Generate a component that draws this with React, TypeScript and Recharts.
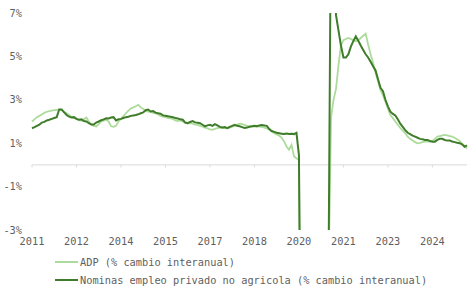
import { LineChart, Line, XAxis, YAxis, ReferenceLine, Legend } from "recharts";

// serie mensual, empieza en marzo de 2011
const startYear = 2011;
const startMonth = 3;

const adp = [
  2.0, 2.1, 2.2, 2.26, 2.32, 2.4, 2.45, 2.48, 2.5, 2.52,
  2.54, 2.55, 2.54, 2.45, 2.38, 2.3, 2.22, 2.16, 2.12, 2.06,
  2.03, 2.1, 2.18, 2.0, 1.86, 1.8, 1.77, 1.88, 2.0, 2.04,
  2.08, 2.0, 1.78, 1.76, 1.8, 2.0, 2.12, 2.25, 2.38, 2.5,
  2.6, 2.65, 2.7, 2.77, 2.65, 2.58, 2.48, 2.45, 2.44, 2.4,
  2.38, 2.32, 2.26, 2.22, 2.2, 2.16, 2.14, 2.12, 2.05, 2.02,
  2.05, 2.0, 1.95, 1.92, 1.92, 1.9, 1.86, 1.84, 1.8, 1.76,
  1.72, 1.68, 1.64, 1.62, 1.66, 1.7, 1.72, 1.7, 1.7, 1.69,
  1.72, 1.76, 1.8, 1.86, 1.9, 1.88, 1.85, 1.8, 1.78, 1.77,
  1.77, 1.77, 1.76, 1.75, 1.72, 1.68, 1.62, 1.54, 1.46, 1.4,
  1.35, 1.25, 1.08, 0.85, 0.7, 0.92, 0.4, 0.3, 0.22, -15.0,
  -13.0, -11.0, -9.5, -8.5, -8.0, -7.5, -7.0, -6.8, -6.5, -6.0,
  -5.0, 2.2, 3.0, 3.5, 4.6, 5.5, 5.75, 5.8, 5.85, 5.8,
  5.75, 5.7, 5.75, 5.85, 5.95, 6.05, 5.55, 5.1, 4.7, 4.25,
  3.85, 3.45, 3.2, 2.9, 2.6, 2.3, 2.15, 2.0, 1.85, 1.7,
  1.58, 1.46, 1.3, 1.2, 1.12, 1.05, 1.0, 1.02, 1.05, 1.07,
  1.07, 1.07, 1.1, 1.2, 1.3, 1.33, 1.36, 1.38, 1.36, 1.33,
  1.3, 1.25, 1.18, 1.1, 0.98, 0.88, 0.75,
];

const nominas = [
  1.69, 1.74, 1.8, 1.86, 1.95, 1.98, 2.05, 2.08, 2.12, 2.16,
  2.2, 2.55, 2.55, 2.42, 2.3, 2.22, 2.18, 2.2, 2.12, 2.08,
  2.1, 2.02, 2.0, 1.92, 1.86, 1.86, 1.95, 2.0, 2.06, 2.1,
  2.15, 2.14, 2.18, 2.2, 2.05, 2.1, 2.12, 2.16, 2.2, 2.22,
  2.26, 2.28, 2.3, 2.33, 2.38, 2.42, 2.52, 2.55, 2.46, 2.48,
  2.41, 2.38, 2.36, 2.28, 2.26, 2.24, 2.22, 2.2, 2.16, 2.14,
  2.1, 2.08, 1.95, 1.92, 1.98, 2.02, 1.96, 1.94, 1.92, 1.85,
  1.78, 1.82, 1.85, 1.8, 1.88, 1.82, 1.75, 1.72, 1.74, 1.69,
  1.75, 1.8, 1.85, 1.8, 1.78, 1.74, 1.7, 1.72, 1.76, 1.78,
  1.8, 1.78, 1.82, 1.84, 1.82, 1.8, 1.65, 1.56, 1.52, 1.48,
  1.46, 1.44, 1.42, 1.45, 1.42, 1.44, 1.42, 1.48, 0.45, -13.2,
  -11.3, -9.0, -8.0, -7.0, -6.3, -5.9, -5.6, -5.6, -6.0, -5.8,
  -4.5, 12.5, 9.3, 6.9, 6.2, 5.5, 4.95, 4.95, 5.1, 5.45,
  5.7, 5.92, 5.72, 5.5, 5.3, 5.1, 4.95, 4.75, 4.55, 4.35,
  3.95, 3.55, 3.4, 3.0, 2.7, 2.45, 2.35, 2.28, 2.1, 1.9,
  1.75, 1.6, 1.48, 1.42, 1.35, 1.3, 1.25, 1.2, 1.18, 1.15,
  1.15, 1.1, 1.07, 1.07, 1.15, 1.2, 1.2, 1.15, 1.12, 1.12,
  1.08, 1.05, 1.02, 1.0, 0.95, 0.84, 0.9,
];

const yTicks = [-3, -1, 1, 3, 5, 7];
const tickEvery = 18;

const fechas = adp.map((_, i) => {
  const m = startMonth - 1 + i;
  return `${startYear + Math.floor(m / 12)}-${String((m % 12) + 1).padStart(2, "0")}`;
});
const xTicks = fechas.filter((_, i) => i % tickEvery === 0);

const data = fechas.map((fecha, i) => ({ fecha, adp: adp[i], nominas: nominas[i] }));

const colorAdp = "#addb9b";
const colorNominas = "#3f7d2a";
const textColor = "#5f5f5f";
const font = "'DejaVu Sans Mono', monospace";

const legendItems = [
  { name: "ADP (% cambio interanual)", color: colorAdp },
  { name: "Nominas empleo privado no agricola (% cambio interanual)", color: colorNominas },
];

function LegendBox() {
  return (
    <div style={{ height: 40, paddingTop: 3, paddingLeft: 55, boxSizing: "border-box", fontFamily: font, fontSize: 10.3, color: textColor }}>
      {legendItems.map((it) => (
        <div key={it.name} style={{ height: 18, display: "flex", alignItems: "center", whiteSpace: "pre" }}>
          <span style={{ display: "inline-block", width: 23, height: 2, background: it.color, marginRight: 2 }} />
          <span>{it.name}</span>
        </div>
      ))}
    </div>
  );
}

export default function App() {
  return (
    <div style={{ position: "absolute", left: 0, top: 0, background: "#fff" }}>
      <LineChart width={475} height={300} data={data} margin={{ top: 13, right: 8, bottom: 10, left: 0 }}>
        <XAxis
          dataKey="fecha"
          ticks={xTicks}
          interval={0}
          tickFormatter={(v: string) => v.slice(0, 4)}
          axisLine={false}
          tickLine={false}
          height={20}
          tick={{ fill: textColor, fontSize: 10.3, fontFamily: font }}
        />
        <YAxis
          domain={[-3, 7]}
          ticks={yTicks}
          allowDataOverflow
          width={32}
          axisLine={false}
          tickLine={false}
          tickMargin={4}
          tickFormatter={(v: number) => `${v}%`}
          tick={{ fill: textColor, fontSize: 10.3, fontFamily: font }}
        />
        <ReferenceLine y={0} stroke="#d9d9d9" />
        {xTicks.map((t) => (
          <ReferenceLine key={t} segment={[{ x: t, y: 0 }, { x: t, y: -0.12 }]} stroke="#d9d9d9" />
        ))}
        <Line type="linear" dataKey="adp" stroke={colorAdp} strokeWidth={1.8} dot={false} isAnimationActive={false} />
        <Line type="linear" dataKey="nominas" stroke={colorNominas} strokeWidth={2} dot={false} isAnimationActive={false} />
        <Legend verticalAlign="bottom" align="left" content={() => <LegendBox />} wrapperStyle={{ left: 0, width: 475 }} />
      </LineChart>
    </div>
  );
}
